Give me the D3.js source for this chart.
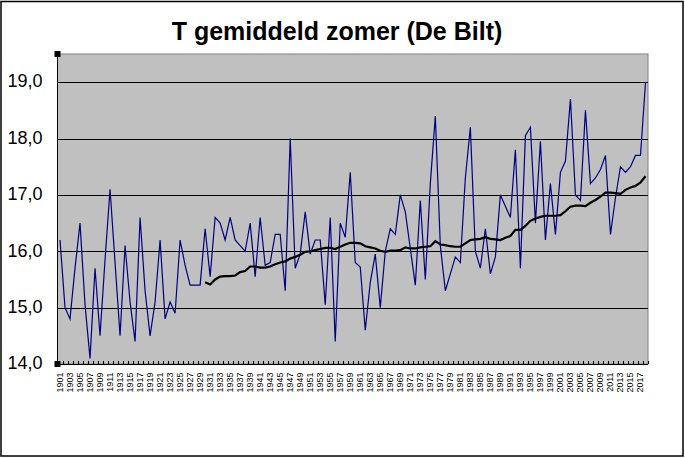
<!DOCTYPE html>
<html lang="nl">
<head>
    <meta charset="UTF-8">
    <title>T gemiddeld zomer (De Bilt)</title>
    <script src="https://cdn.jsdelivr.net/npm/d3@7"></script>
    <style>
        body { margin:0; background:#fff; }
        svg { display:block; font-family:"Liberation Sans", Arial, sans-serif; }
        .ylab { font-size:18px; text-anchor:end; }
        .xlab { font-size:9px; text-anchor:end; }
        .title { font-size:25px; font-weight:bold; text-anchor:middle; }
    </style>
</head>
<body>
<script>
    // jaren 1901 t/m 2018
    var years = d3.range(1901, 2019);

    // zomertemperatuur per jaar
    var temp = [
        16.2, 15.0, 14.8, 15.7, 16.5, 15.05, 14.1, 15.7, 14.5, 15.85,   // 1901-1910
        17.1, 15.8, 14.5, 16.1, 15.1, 14.4, 16.6, 15.3, 14.5, 15.1,     // 1911-1920
        16.2, 14.8, 15.1, 14.9, 16.2, 15.75, 15.4, 15.4, 15.4, 16.4,    // 1921-1930
        15.55, 16.6, 16.5, 16.2, 16.6, 16.2, 16.1, 16.0, 16.5, 15.55,   // 1931-1940
        16.6, 15.75, 15.8, 16.3, 16.3, 15.3, 18.0, 15.7, 15.95, 16.7,   // 1941-1950
        15.95, 16.2, 16.2, 15.05, 16.6, 14.4, 16.5, 16.25, 17.4, 15.8,  // 1951-1960
        15.72, 14.6, 15.45, 15.95, 15.0, 16.0, 16.4, 16.3, 17.0, 16.7,  // 1961-1970
        16.05, 15.4, 16.9, 15.5, 17.2, 18.4, 16.1, 15.3, 15.6, 15.9,    // 1971-1980
        15.8, 17.3, 18.2, 16.0, 15.7, 16.4, 15.6, 15.9, 17.0, 16.8,     // 1981-1990
        16.6, 17.8, 15.7, 18.05, 18.2, 16.5, 17.95, 16.2, 17.2, 16.3,   // 1991-2000
        17.4, 17.6, 18.7, 17.0, 16.9, 18.5, 17.2, 17.3, 17.45, 17.7,    // 2001-2010
        16.3, 16.95, 17.5, 17.4, 17.5, 17.7, 17.7, 19.0                 // 2011-2018
    ];

    // 30-jarig gemiddelde, vanaf 1930
    var avgStart = 1930;
    var avg30 = [
        15.45, 15.41, 15.50, 15.55, 15.56, 15.56, 15.57, 15.63, 15.65, 15.73,  // 1930-1939
        15.73, 15.71, 15.71, 15.73, 15.77, 15.80, 15.82, 15.87, 15.90, 15.94,  // 1940-1949
        15.99, 16.00, 16.02, 16.04, 16.06, 16.06, 16.04, 16.08, 16.12, 16.15,  // 1950-1959
        16.15, 16.14, 16.09, 16.07, 16.05, 16.01, 15.99, 16.01, 16.01, 16.02,  // 1960-1969
        16.07, 16.05, 16.05, 16.07, 16.08, 16.09, 16.18, 16.12, 16.11, 16.09,  // 1970-1979
        16.08, 16.08, 16.14, 16.20, 16.21, 16.22, 16.25, 16.22, 16.21, 16.20,  // 1980-1989
        16.24, 16.27, 16.38, 16.38, 16.45, 16.54, 16.58, 16.61, 16.63, 16.63,  // 1990-1999
        16.63, 16.64, 16.71, 16.79, 16.81, 16.81, 16.80, 16.86, 16.91, 16.97,  // 2000-2009
        17.04, 17.04, 17.03, 17.02, 17.09, 17.13, 17.16, 17.22, 17.33          // 2010-2018
    ];

    var yTicks = [14, 15, 16, 17, 18, 19];
    var xLabelYears = years.filter(function(y){ return (y - 1901) % 2 == 0; });

    (function(){
        var W = 685, H = 458;
        var pLeft = 57.5, pRight = 648, pTop = 54, pBottom = 364;

        var svg = d3.select("body").append("svg")
            .attr("width", W)
            .attr("height", H);

        // buitenrand
        svg.append("rect")
            .attr("x", 1).attr("y", 1.5)
            .attr("width", 682).attr("height", 454.5)
            .attr("fill", "#fff")
            .attr("stroke", "#000")
            .attr("stroke-width", 1.5);

        var x = d3.scaleBand().domain(years).range([pLeft, pRight]);
        var y = d3.scaleLinear().domain([14, 19.5]).range([pBottom, pTop]);
        var cx = function(yr){ return x(yr) + x.bandwidth() / 2; };

        var nl = d3.formatLocale({decimal: ",", thousands: ".", grouping: [3], currency: ["€", ""]});
        var fmt = nl.format(".1f");

        // plotgebied
        svg.append("rect")
            .attr("x", pLeft).attr("y", pTop)
            .attr("width", pRight - pLeft).attr("height", pBottom - pTop)
            .attr("fill", "#c0c0c0")
            .attr("stroke", "#808080")
            .attr("stroke-width", 1);

        // rasterlijnen
        svg.append("g").selectAll("line")
            .data(yTicks.filter(function(d){ return d > 14; }))
            .enter().append("line")
            .attr("x1", pLeft).attr("x2", pRight)
            .attr("y1", function(d){ return Math.round(y(d)) + 0.5; })
            .attr("y2", function(d){ return Math.round(y(d)) + 0.5; })
            .attr("stroke", "#000")
            .attr("stroke-width", 1);

        // y-as labels
        svg.append("g").selectAll("text")
            .data(yTicks)
            .enter().append("text")
            .attr("class", "ylab")
            .attr("x", 42.5)
            .attr("y", function(d){ return y(d) - 1; })
            .attr("dy", "0.35em")
            .text(function(d){ return fmt(d); });

        // assen
        svg.append("line")
            .attr("x1", pLeft).attr("x2", pLeft)
            .attr("y1", pTop).attr("y2", pBottom)
            .attr("stroke", "#000");
        svg.append("line")
            .attr("x1", pLeft).attr("x2", pRight)
            .attr("y1", pBottom + 0.5).attr("y2", pBottom + 0.5)
            .attr("stroke", "#000");

        // tickjes tussen de jaren
        var bounds = years.map(function(yr){ return x(yr); }).concat([pRight]);
        svg.append("g").selectAll("line")
            .data(bounds)
            .enter().append("line")
            .attr("x1", function(d){ return Math.round(d) + 0.5; })
            .attr("x2", function(d){ return Math.round(d) + 0.5; })
            .attr("y1", pBottom - 3).attr("y2", pBottom)
            .attr("stroke", "#000");

        // x-as labels (gedraaid)
        svg.append("g").selectAll("text")
            .data(xLabelYears)
            .enter().append("text")
            .attr("class", "xlab")
            .attr("transform", function(d){ return "translate(" + (cx(d) + 3) + "," + 372.5 + ") rotate(-90)"; })
            .text(function(d){ return d; });

        // jaarwaarden
        var line1 = d3.line()
            .x(function(d, i){ return cx(years[i]); })
            .y(function(d){ return y(d); });
        svg.append("path")
            .datum(temp)
            .attr("fill", "none")
            .attr("stroke", "#000080")
            .attr("stroke-width", 1.2)
            .attr("d", line1);

        // 30-jarig gemiddelde
        var line2 = d3.line()
            .x(function(d, i){ return cx(avgStart + i); })
            .y(function(d){ return y(d); });
        svg.append("path")
            .datum(avg30)
            .attr("fill", "none")
            .attr("stroke", "#000")
            .attr("stroke-width", 2.2)
            .attr("d", line2);

        // selectieblokjes van de y-as
        svg.append("g").selectAll("rect")
            .data([19.5, 14])
            .enter().append("rect")
            .attr("x", pLeft - 3).attr("y", function(d){ return y(d) - 3; })
            .attr("width", 6).attr("height", 6)
            .attr("fill", "#000");

        // titel
        svg.append("text")
            .attr("class", "title")
            .attr("x", 337)
            .attr("y", 40)
            .text("T gemiddeld zomer (De Bilt)");
    })();
</script>
</body>
</html>
